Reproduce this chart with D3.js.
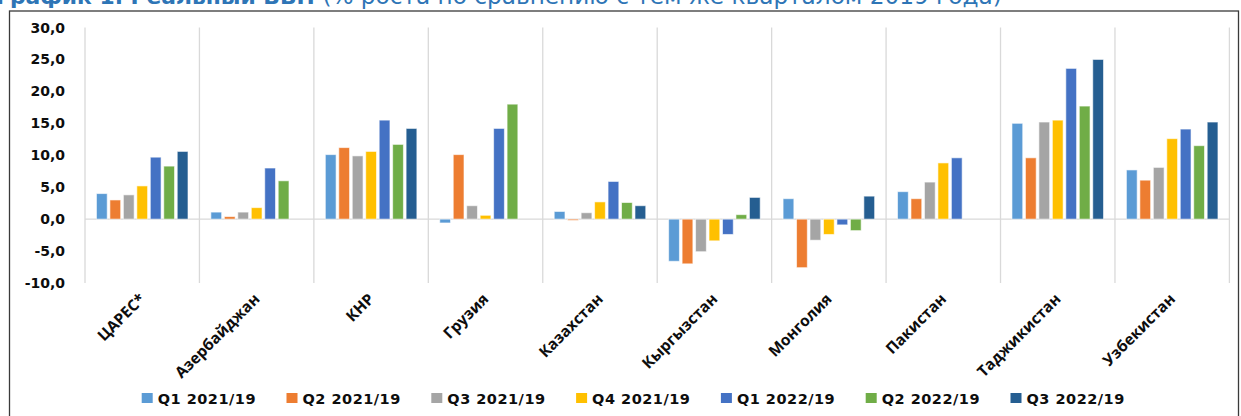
<!DOCTYPE html>
<html>
<head>
<meta charset="utf-8">
<script src="https://cdn.jsdelivr.net/npm/d3@7"></script>
<style>
  body { margin: 0; background: #fff; }
  svg { display: block; }
</style>
</head>
<body>
<div id="elements"></div>
<script>
'use strict';
// real GDP growth, % vs the same quarter of 2019

var categories = ["ЦАРЕС*", "Азербайджан", "КНР", "Грузия", "Казахстан", "Кыргызстан", "Монголия", "Пакистан", "Таджикистан", "Узбекистан"];
var seriesNames = ["Q1 2021/19", "Q2 2021/19", "Q3 2021/19", "Q4 2021/19", "Q1 2022/19", "Q2 2022/19", "Q3 2022/19"];
var seriesColors = ["#5B9BD5", "#ED7D31", "#A5A5A5", "#FFC000", "#4472C4", "#70AD47", "#255E91"];

var q1_2021 = [4.0, 1.1, 10.1, -0.6, 1.2, -6.6, 3.2, 4.3, 15.0, 7.7];
var q2_2021 = [3.0, 0.4, 11.2, 10.1, -0.2, -7.0, -7.6, 3.2, 9.6, 6.1];
var q3_2021 = [3.8, 1.1, 9.9, 2.1, 1.0, -5.1, -3.3, 5.8, 15.2, 8.1];
var q4_2021 = [5.2, 1.8, 10.6, 0.6, 2.7, -3.4, -2.4, 8.8, 15.5, 12.6];
var q1_2022 = [9.7, 8.0, 15.5, 14.2, 5.9, -2.4, -0.9, 9.6, 23.6, 14.1];
var q2_2022 = [8.3, 6.0, 11.7, 18.0, 2.6, 0.7, -1.8, null, 17.7, 11.5];
var q3_2022 = [10.6, null, 14.2, null, 2.1, 3.4, 3.6, null, 25.0, 15.2];

var yTicks = [-10, -5, 0, 5, 10, 15, 20, 25, 30];

var titleBold = "График 1. Реальный ВВП ";
var titleRest = "(% роста по сравнению с тем же кварталом 2019 года)";

var seriesValues = [q1_2021, q2_2021, q3_2021, q4_2021, q1_2022, q2_2022, q3_2022];

var canvas_width = 1241, canvas_height = 416;
var svg = d3.select("#elements").append("svg")
    .attr("width", canvas_width)
    .attr("height", canvas_height);

var margin = {top: 27.5, right: 11.6, bottom: 133, left: 85};
var width = canvas_width - margin.left - margin.right;
var height = canvas_height - margin.top - margin.bottom;

// frame around the chart
svg.append("rect")
    .attr("x", 9.5)
    .attr("y", 11)
    .attr("width", 1229)
    .attr("height", 500)
    .attr("fill", "none")
    .attr("stroke", "#3a3a3a")
    .attr("stroke-width", 1.3);

// title (cut off at the top of the picture, as in the source)
var title = svg.append("text")
    .attr("x", -4)
    .attr("y", 4)
    .style("font-family", "'DejaVu Sans', Verdana, sans-serif")
    .style("font-size", "23.2px")
    .attr("fill", "#2E75B6");
title.append("tspan").style("font-weight", "bold").style("font-size", "21.8px").text(titleBold);
title.append("tspan").text(titleRest);

var g = svg.append("g").attr("transform", "translate(" + margin.left + "," + margin.top + ")");

var x0 = d3.scaleBand()
    .domain(categories)
    .range([0, width])
    .padding(0);
var x1 = d3.scaleBand()
    .domain(seriesNames)
    .range([x0.bandwidth() * 0.1, x0.bandwidth() * 0.9])
    .paddingInner(0.2)
    .paddingOuter(0);
var y = d3.scaleLinear()
    .domain([d3.min(yTicks), d3.max(yTicks)])
    .range([height, 0]);

function fmt(v) {
    return (v < 0 ? "-" : "") + d3.format(".1f")(Math.abs(v)).replace(".", ",");
}

// vertical category separators
var sepPositions = categories.map(function(c) { return x0(c); }).concat([width]);
g.append("g").selectAll("line")
    .data(sepPositions)
    .enter().append("line")
        .attr("x1", function(d) { return d; })
        .attr("x2", function(d) { return d; })
        .attr("y1", y(d3.max(yTicks)))
        .attr("y2", y(d3.min(yTicks)))
        .attr("stroke", "#D9D9D9")
        .attr("stroke-width", 1.3);

// zero line
g.append("line")
    .attr("x1", 0)
    .attr("x2", width)
    .attr("y1", y(0))
    .attr("y2", y(0))
    .attr("stroke", "#D9D9D9")
    .attr("stroke-width", 1.3);

// y axis labels
g.append("g").selectAll("text")
    .data(yTicks)
    .enter().append("text")
        .attr("x", -20)
        .attr("y", function(d) { return y(d); })
        .attr("dy", "0.36em")
        .attr("text-anchor", "end")
        .style("font-family", "'DejaVu Sans', Verdana, sans-serif")
        .style("font-weight", "bold")
        .style("font-size", "14px")
        .attr("fill", "#0d0d0d")
        .text(fmt);

// bars
var groups = g.append("g").selectAll("g")
    .data(categories)
    .enter().append("g")
        .attr("transform", function(d) { return "translate(" + x0(d) + ",0)"; });

groups.selectAll("rect")
    .data(function(c, ci) {
        return seriesNames.map(function(s, si) {
            return {key: s, color: seriesColors[si], value: seriesValues[si][ci]};
        }).filter(function(d) { return d.value !== null; });
    })
    .enter().append("rect")
        .attr("x", function(d) { return x1(d.key); })
        .attr("width", x1.bandwidth())
        .attr("y", function(d) { return Math.min(y(d.value), y(0)); })
        .attr("height", function(d) { return Math.abs(y(d.value) - y(0)); })
        .attr("fill", function(d) { return d.color; })
        .attr("stroke", "#fff")
        .attr("stroke-opacity", 0.6)
        .attr("stroke-width", 1);

// rotated category labels
g.append("g").selectAll("text")
    .data(categories)
    .enter().append("text")
        .attr("transform", function(d) {
            return "translate(" + (x0(d) + x0.bandwidth() / 2 + 4) + "," + (height + 17) + ") rotate(-45)";
        })
        .attr("text-anchor", "end")
        .style("font-family", "'Open Sans', sans-serif")
        .style("font-weight", "bold")
        .style("font-size", "15.5px")
        .attr("fill", "#0d0d0d")
        .text(function(d) { return d; });

// legend
var legendX = d3.scalePoint()
    .domain(seriesNames)
    .range([141.7, 141.7 + 144.8 * 6]);
var legend = svg.append("g").selectAll("g")
    .data(seriesNames)
    .enter().append("g")
        .attr("transform", function(d) { return "translate(" + legendX(d) + ",393)"; });
legend.append("rect")
    .attr("width", 11)
    .attr("height", 10)
    .attr("fill", function(d, i) { return seriesColors[i]; });
legend.append("text")
    .attr("x", 16)
    .attr("y", 11)
    .style("font-family", "'DejaVu Sans', Verdana, sans-serif")
    .style("font-weight", "bold")
    .style("font-size", "14.5px")
    .style("letter-spacing", "0.5px")
    .attr("fill", "#0d0d0d")
    .text(function(d) { return d; });
</script>
</body>
</html>
